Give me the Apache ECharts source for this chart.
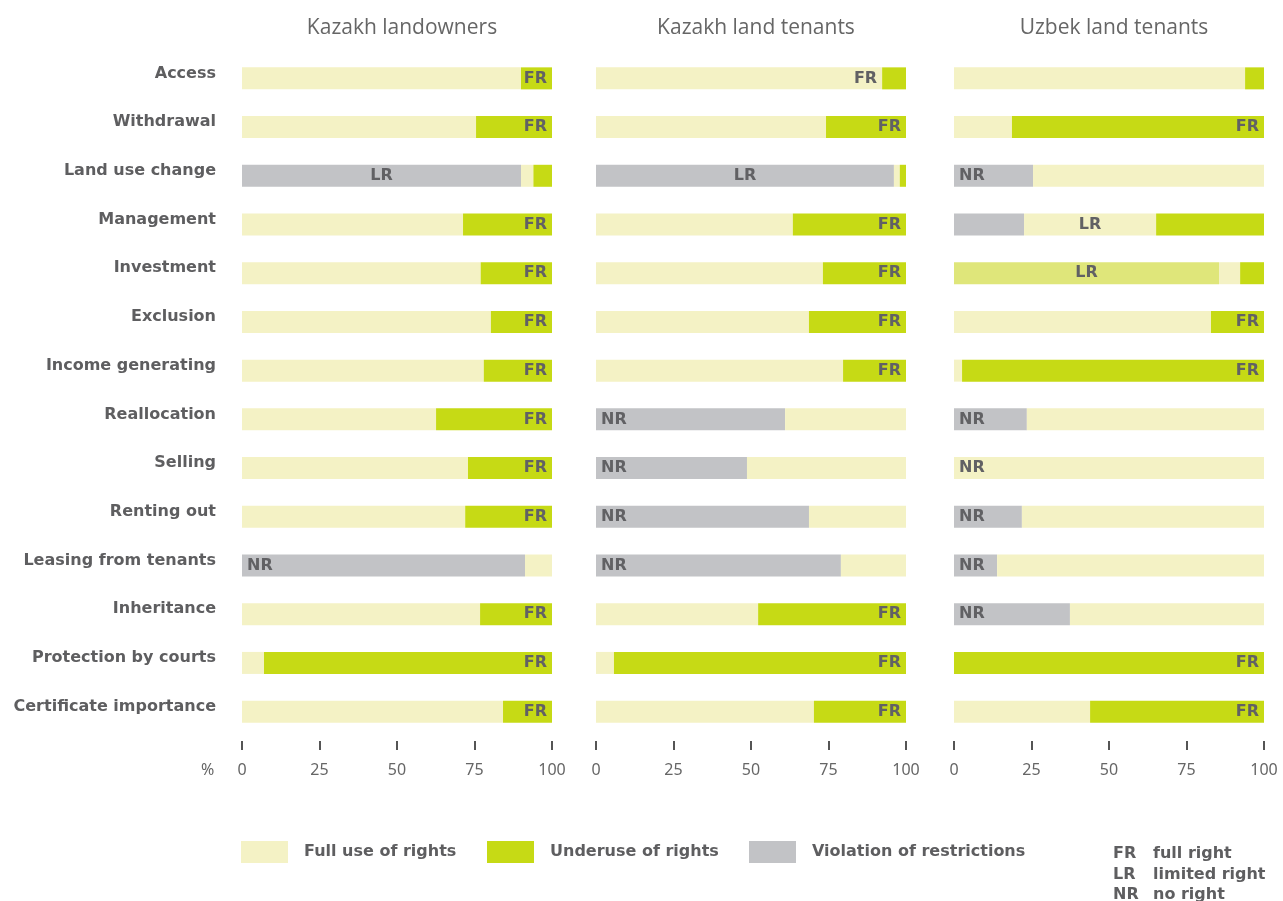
<!DOCTYPE html>
<html>
<head>
<meta charset="utf-8">
<script src="https://cdn.jsdelivr.net/npm/echarts@6/dist/echarts.min.js"></script>
<style>html,body{margin:0;padding:0;background:#fff}#c{width:1283px;height:901px}</style>
</head>
<body>
<div id="c"></div>
<script>
var categories = ['Access','Withdrawal','Land use change','Management','Investment','Exclusion','Income generating','Reallocation','Selling','Renting out','Leasing from tenants','Inheritance','Protection by courts','Certificate importance'];
var panelTitles = ['Kazakh landowners','Kazakh land tenants','Uzbek land tenants'];
var xTicks = [0,25,50,75,100];

// Kazakh landowners
var violation1 = [0,0,90,0,0,0,0,0,0,0,91.3,0,0,0];
var limited1   = [0,0,0,0,0,0,0,0,0,0,0,0,0,0];
var full1      = [90,75.5,4,71.3,77,80.3,78,62.6,72.9,72,8.7,76.8,7.1,84.2];
var under1     = [10,24.5,6,28.7,23,19.7,22,37.4,27.1,28,0,23.2,92.9,15.8];
var rights1    = ['FR','FR','LR','FR','FR','FR','FR','FR','FR','FR','NR','FR','FR','FR'];
var rightsSeg1 = ['under','under','violation','under','under','under','under','under','under','under','violation','under','under','under'];

// Kazakh land tenants
var violation2 = [0,0,96.1,0,0,0,0,61,48.7,68.7,79,0,0,0];
var limited2   = [0,0,0,0,0,0,0,0,0,0,0,0,0,0];
var full2      = [92.3,74.2,1.9,63.5,73.2,68.7,79.7,39,51.3,31.3,21,52.3,5.8,70.3];
var under2     = [7.7,25.8,2,36.5,26.8,31.3,20.3,0,0,0,0,47.7,94.2,29.7];
var rights2    = ['FR','FR','LR','FR','FR','FR','FR','NR','NR','NR','NR','FR','FR','FR'];
var rightsSeg2 = ['full','under','violation','under','under','under','under','violation','violation','violation','violation','under','under','under'];

// Uzbek land tenants
var violation3 = [0,0,25.5,22.6,0,0,0,23.5,0,21.9,13.9,37.4,0,0];
var limited3   = [0,0,0,0,85.5,0,0,0,0,0,0,0,0,0];
var full3      = [93.9,18.7,74.5,42.6,6.8,82.9,2.6,76.5,100,78.1,86.1,62.6,0,43.9];
var under3     = [6.1,81.3,0,34.8,7.7,17.1,97.4,0,0,0,0,0,100,56.1];
var rights3    = ['','FR','NR','LR','LR','FR','FR','NR','NR','NR','NR','NR','FR','FR'];
var rightsSeg3 = ['','under','violation','full','limited','under','under','violation','full','violation','violation','violation','under','under'];

var seriesNames = {violation:'Violation of restrictions', limited:'Limited use', full:'Full use of rights', under:'Underuse of rights'};
var colors = {violation:'#c2c3c6', limited:'#dfe67a', full:'#f4f2c5', under:'#c6da15'};
var posFor = {FR:'insideRight', LR:'inside', NR:'insideLeft'};

var panels = [
  {violation:violation1, limited:limited1, full:full1, under:under1, rights:rights1, seg:rightsSeg1},
  {violation:violation2, limited:limited2, full:full2, under:under2, rights:rights2, seg:rightsSeg2},
  {violation:violation3, limited:limited3, full:full3, under:under3, rights:rights3, seg:rightsSeg3}
];
var gridLefts = [242, 596, 954];
var gridW = 310, gridTop = 54, gridH = 682;
var font = 'Noto Sans';
var bold = 'DejaVu Sans';
var textCol = '#5e5e60';
var bs = 16;

var grids = [], xAxes = [], yAxes = [], series = [], titles = [];
panels.forEach(function(p, i){
  grids.push({left: gridLefts[i], top: gridTop, width: gridW, height: gridH, containLabel: false});
  xAxes.push({
    type:'value', gridIndex:i, min:0, max:100, interval:25, offset:5,
    axisLine:{show:false}, splitLine:{show:false},
    axisTick:{show:true, length:9, lineStyle:{color:'#555', width:2}},
    axisLabel:{show:true, margin:21, fontSize:16, color:'#666', fontFamily:font,
      formatter:function(v){return xTicks.indexOf(v) >= 0 ? String(v) : '';}}
  });
  yAxes.push({
    type:'category', gridIndex:i, data:categories, inverse:true,
    axisLine:{show:false}, axisTick:{show:false}, splitLine:{show:false},
    axisLabel:{show: i===0, margin:26, fontSize:bs, fontWeight:'bold', color:textCol, fontFamily:bold,
      verticalAlign:'bottom', lineHeight:10}
  });
  titles.push({text: panelTitles[i], left: gridLefts[i] + gridW/2, top: 13, textAlign:'center',
    textStyle:{fontSize:21, fontWeight:'normal', color:'#666', fontFamily:'Open Sans'}});
  ['violation','limited','full','under'].forEach(function(k){
    series.push({
      type:'bar', name: seriesNames[k], stack:'s'+i, xAxisIndex:i, yAxisIndex:i,
      barWidth:22, itemStyle:{color: colors[k]}, silent:true,
      data: p[k].map(function(v, j){
        var item = {value: v};
        if (p.seg[j] === k && p.rights[j]) {
          item.label = {show:true, formatter: p.rights[j], position: posFor[p.rights[j]], distance: 5,
            fontSize:bs, fontWeight:'bold', color:'#616164', fontFamily:bold};
        }
        return item;
      })
    });
  });
});

function legendAt(x, name){
  return {left:x, top:836, data:[name], itemWidth:47, itemHeight:22, icon:'rect', selectedMode:false,
    textStyle:{fontSize:bs, fontWeight:'bold', color:textCol, fontFamily:bold, padding:[0,0,0,11]}};
}

var chart = echarts.init(document.getElementById('c'), null, {renderer:'canvas'});
chart.setOption({
  animation:false,
  backgroundColor:'#fff',
  title: titles,
  grid: grids,
  xAxis: xAxes,
  yAxis: yAxes,
  legend: [legendAt(236,'Full use of rights'), legendAt(482,'Underuse of rights'), legendAt(744,'Violation of restrictions')],
  series: series,
  graphic: [
    {type:'text', left:201, top:762, style:{text:'%', fontSize:16, fill:'#666', fontFamily:font}},
    {type:'text', left:1113, top:846, style:{text:'FR', fontSize:bs, fontWeight:'bold', fill:textCol, fontFamily:bold}},
    {type:'text', left:1153, top:846, style:{text:'full right', fontSize:bs, fontWeight:'bold', fill:textCol, fontFamily:bold}},
    {type:'text', left:1113, top:867, style:{text:'LR', fontSize:bs, fontWeight:'bold', fill:textCol, fontFamily:bold}},
    {type:'text', left:1153, top:867, style:{text:'limited right', fontSize:bs, fontWeight:'bold', fill:textCol, fontFamily:bold}},
    {type:'text', left:1113, top:887, style:{text:'NR', fontSize:bs, fontWeight:'bold', fill:textCol, fontFamily:bold}},
    {type:'text', left:1153, top:887, style:{text:'no right', fontSize:bs, fontWeight:'bold', fill:textCol, fontFamily:bold}}
  ]
});
</script>
</body>
</html>
